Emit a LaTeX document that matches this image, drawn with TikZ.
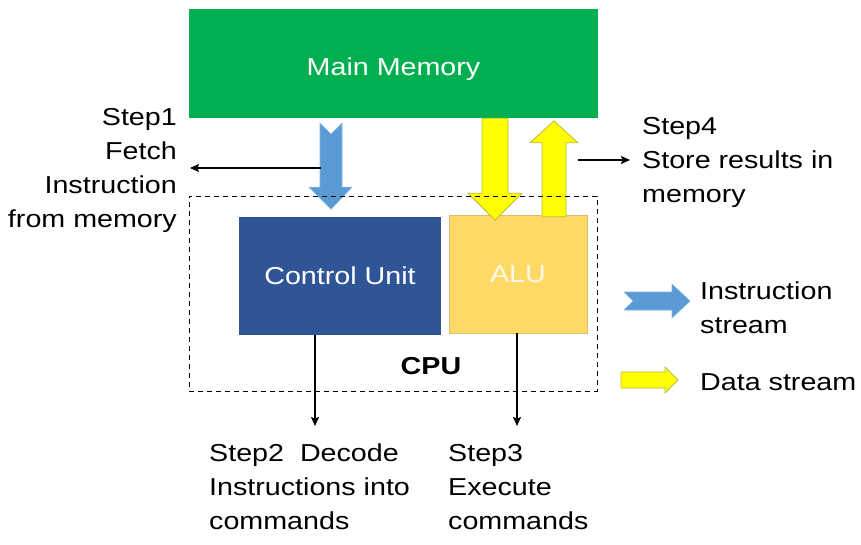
\documentclass[tikz,border=0pt]{standalone}
\usepackage{fontspec}
\setmainfont{Liberation Sans}[FakeStretch=1.17]
\usepackage{tikz}
\usetikzlibrary{arrows.meta,positioning,calc}
\definecolor{mem-green}{HTML}{00B050}
\definecolor{cu-blue}{HTML}{2F5597}
\definecolor{alu-gold}{HTML}{FFD966}
\definecolor{inst-blue}{HTML}{5B9BD5}
\definecolor{data-yellow}{HTML}{FFFF00}
\definecolor{data-edge}{HTML}{BDBD3C}

\begin{document}
\begin{tikzpicture}[x=1pt,y=-1pt,
    every node/.style={font=\fontsize{24.5}{34}\selectfont},
    unit/.style={inner sep=0pt,text=white},
    steptext/.style={inner sep=0pt,align=left},
    link/.style={line width=1.2pt,-{Stealth[length=9pt,width=8pt,inset=1.5pt]}},
    instarrow/.style={fill=inst-blue,draw=inst-blue!75!white,line width=0.6pt},
    dataarrow/.style={fill=data-yellow,draw=data-edge,line width=0.8pt}]
      \useasboundingbox (0,0) rectangle (861,544);
      % memory and the two units
      \node[unit,fill=mem-green,minimum width=409pt,minimum height=109pt] (mem) at (393.5,63.5) {\raisebox{-12pt}[0pt][0pt]{Main Memory}};
      \node[unit,fill=cu-blue,minimum width=202pt,minimum height=118pt] (cu) at (340,276) {Control Unit};
      \node[unit,fill=alu-gold,draw=alu-gold!70!gray,text=white!85!alu-gold,minimum width=138pt,minimum height=118pt] (alu) at (518,274) {ALU};
      \node[font=\bfseries\fontsize{24.5}{34}\selectfont] (cpulbl) at (431,366) {CPU};
      % labels
      \node[steptext,align=right,anchor=north east] (fetch) at (177,108) {Step1\\Fetch\\Instruction\\from memory};
      \node[steptext,anchor=north west] (store) at (642,117) {Step4\\Store results in\\memory};
      \node[steptext,anchor=north west] (decode) at (209,444) {Step2\ \ Decode\\Instructions into\\commands};
      \node[steptext,anchor=north west] (execute) at (448,444) {Step3\\Execute\\commands};
      \node[steptext,anchor=north west] (instlbl) at (700,282) {Instruction\\stream};
      \node[steptext,anchor=north west] (datalbl) at (700,373) {Data stream};
      % block arrows
      \coordinate (instsrc) at ([xshift=-62.5pt]mem.south);
      \coordinate (datadown) at ([xshift=101.5pt]mem.south);
      \coordinate (dataup) at ([xshift=36pt]alu.north);
      \filldraw[instarrow] ($(instsrc)+(-11,5)$) -- ++(11,11) -- ++(11,-11) -- ++(0,64) -- ++(10,0) -- ++(-21,22) -- ++(-22,-22) -- ++(11,0) -- cycle;
      \filldraw[dataarrow] ($(datadown)+(-13,0)$) -- ++(26,0) -- ++(0,75) -- ++(14,0) -- ++(-27,27) -- ++(-27,-27) -- ++(14,0) -- cycle;
      \filldraw[dataarrow] ($(dataup)+(-12,2)$) -- ++(24,0) -- ++(0,-74) -- ++(12,0) -- ++(-24,-22) -- ++(-24,22) -- ++(12,0) -- cycle;
      % legend
      \filldraw[instarrow] (624,292) -- ++(48,0) -- ++(0,-8) -- ++(18,17) -- ++(-18,17) -- ++(0,-8) -- ++(-48,0) -- ++(9,-9) -- cycle;
      \filldraw[dataarrow] (621,372) -- ++(44,0) -- ++(0,-5) -- ++(13,13) -- ++(-13,13) -- ++(0,-5) -- ++(-44,0) -- cycle;
      % steps
      \coordinate (fetchsrc) at (321,168);
      \coordinate (storesrc) at (578,160);
      \draw[link,shorten >=13pt] (fetchsrc) -- (fetchsrc -| fetch.east);
      \draw[link,shorten >=12pt] (storesrc) -- (storesrc -| store.west);
      \draw[link,shorten >=18pt] ([xshift=-25pt]cu.south) -- ([xshift=-25pt]cu.south |- decode.north);
      \draw[link,shorten >=18pt] ([xshift=-1pt]alu.south) -- ([xshift=-1pt]alu.south |- execute.north);
      % cpu boundary
      \node[draw,dash pattern=on 5pt off 4pt,line width=1pt,minimum width=408pt,minimum height=195pt] (cpu) at (393,293.5) {};
\end{tikzpicture}
\end{document}
